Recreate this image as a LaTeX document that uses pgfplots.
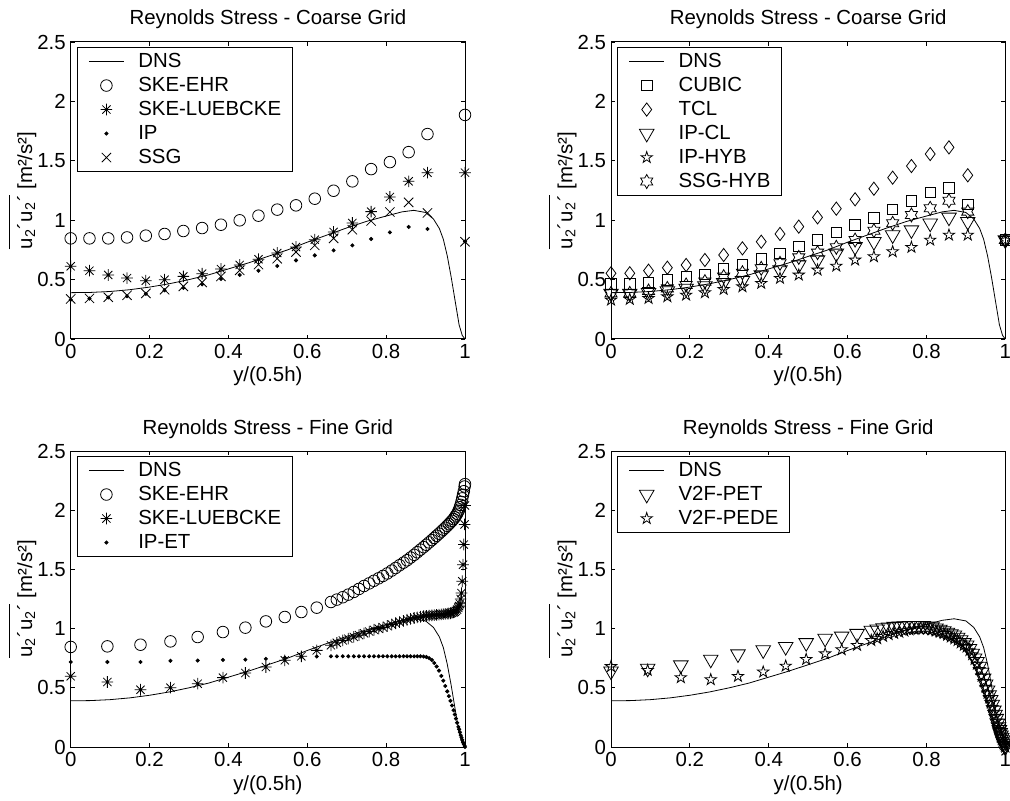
\documentclass[border=0pt]{standalone}
\usepackage{pgfplots}
\pgfplotsset{compat=1.18}
\usepackage{pgfplotstable}
\usepackage{fontspec}
\setmainfont{Liberation Sans}
\newcommand\fs{\fontsize{10.2}{12}\selectfont}

% matlab-like markers
\pgfdeclareplotmark{mstar}{%
  \pgfpathmoveto{\pgfqpoint{-\pgfplotmarksize}{0pt}}\pgfpathlineto{\pgfqpoint{\pgfplotmarksize}{0pt}}%
  \pgfpathmoveto{\pgfqpoint{0pt}{-\pgfplotmarksize}}\pgfpathlineto{\pgfqpoint{0pt}{\pgfplotmarksize}}%
  \pgfpathmoveto{\pgfpointpolar{45}{\pgfplotmarksize}}\pgfpathlineto{\pgfpointpolar{225}{\pgfplotmarksize}}%
  \pgfpathmoveto{\pgfpointpolar{135}{\pgfplotmarksize}}\pgfpathlineto{\pgfpointpolar{315}{\pgfplotmarksize}}%
  \pgfusepathqstroke}
\pgfdeclareplotmark{pentagram}{%
  \pgfpathmoveto{\pgfpointpolar{90}{\pgfplotmarksize}}%
  \pgfpathlineto{\pgfpointpolar{126}{0.382*\pgfplotmarksize}}%
  \pgfpathlineto{\pgfpointpolar{162}{\pgfplotmarksize}}%
  \pgfpathlineto{\pgfpointpolar{198}{0.382*\pgfplotmarksize}}%
  \pgfpathlineto{\pgfpointpolar{234}{\pgfplotmarksize}}%
  \pgfpathlineto{\pgfpointpolar{270}{0.382*\pgfplotmarksize}}%
  \pgfpathlineto{\pgfpointpolar{306}{\pgfplotmarksize}}%
  \pgfpathlineto{\pgfpointpolar{342}{0.382*\pgfplotmarksize}}%
  \pgfpathlineto{\pgfpointpolar{18}{\pgfplotmarksize}}%
  \pgfpathlineto{\pgfpointpolar{54}{0.382*\pgfplotmarksize}}%
  \pgfpathclose\pgfusepathqstroke}
\pgfdeclareplotmark{hexagram}{%
  \pgfpathmoveto{\pgfpointpolar{90}{\pgfplotmarksize}}%
  \pgfpathlineto{\pgfpointpolar{120}{0.577*\pgfplotmarksize}}%
  \pgfpathlineto{\pgfpointpolar{150}{\pgfplotmarksize}}%
  \pgfpathlineto{\pgfpointpolar{180}{0.577*\pgfplotmarksize}}%
  \pgfpathlineto{\pgfpointpolar{210}{\pgfplotmarksize}}%
  \pgfpathlineto{\pgfpointpolar{240}{0.577*\pgfplotmarksize}}%
  \pgfpathlineto{\pgfpointpolar{270}{\pgfplotmarksize}}%
  \pgfpathlineto{\pgfpointpolar{300}{0.577*\pgfplotmarksize}}%
  \pgfpathlineto{\pgfpointpolar{330}{\pgfplotmarksize}}%
  \pgfpathlineto{\pgfpointpolar{0}{0.577*\pgfplotmarksize}}%
  \pgfpathlineto{\pgfpointpolar{30}{\pgfplotmarksize}}%
  \pgfpathlineto{\pgfpointpolar{60}{0.577*\pgfplotmarksize}}%
  \pgfpathclose\pgfusepathqstroke}

\pgfplotstableread{
x     y
0.00  0.390
0.05  0.392
0.10  0.400
0.15  0.415
0.20  0.437
0.25  0.465
0.30  0.500
0.35  0.540
0.40  0.590
0.45  0.640
0.50  0.695
0.55  0.750
0.60  0.815
0.65  0.875
0.70  0.935
0.75  0.990
0.80  1.035
0.84  1.070
0.87  1.083
0.90  1.065
0.92  1.010
0.935 0.930
0.945 0.840
0.955 0.700
0.965 0.520
0.975 0.320
0.985 0.120
0.993 0.030
1.00  0.000
}\dns

\pgfplotstableread{
x      ehr   lue   ip    ssg   cubic tcl   ipcl  iphyb ssghyb
0.0000 0.847 0.612 0.330 0.337 0.463 0.553 0.384 0.328 0.384
0.0476 0.847 0.575 0.340 0.342 0.463 0.553 0.384 0.334 0.384
0.0952 0.847 0.539 0.350 0.351 0.474 0.575 0.390 0.342 0.404
0.1429 0.855 0.513 0.360 0.368 0.497 0.600 0.404 0.356 0.426
0.1905 0.870 0.491 0.380 0.384 0.525 0.623 0.426 0.370 0.455
0.2381 0.884 0.499 0.410 0.415 0.544 0.665 0.446 0.390 0.483
0.2857 0.909 0.527 0.430 0.443 0.589 0.707 0.474 0.418 0.525
0.3333 0.934 0.550 0.460 0.477 0.623 0.763 0.491 0.440 0.558
0.3810 0.962 0.589 0.505 0.527 0.673 0.819 0.539 0.469 0.595
0.4286 0.999 0.623 0.539 0.578 0.721 0.884 0.581 0.511 0.637
0.4762 1.038 0.671 0.575 0.626 0.777 0.946 0.623 0.539 0.687
0.5238 1.089 0.724 0.614 0.676 0.833 1.024 0.665 0.581 0.727
0.5714 1.125 0.774 0.662 0.732 0.895 1.097 0.721 0.614 0.772
0.6190 1.181 0.836 0.704 0.788 0.960 1.176 0.777 0.665 0.833
0.6667 1.248 0.901 0.746 0.847 1.021 1.265 0.819 0.693 0.912
0.7143 1.327 0.976 0.788 0.920 1.091 1.358 0.875 0.735 0.974
0.7619 1.430 1.072 0.842 0.993 1.164 1.456 0.917 0.772 1.044
0.8095 1.489 1.195 0.898 1.069 1.232 1.557 0.974 0.833 1.100
0.8571 1.573 1.327 0.943 1.150 1.271 1.613 1.024 0.875 1.164
0.9048 1.725 1.400 0.926 1.061 1.134 1.378 0.988 0.875 1.072
1.0000 1.886 1.400 0.820 0.819 0.833 0.833 0.833 0.833 0.833
}\coarse

\pgfplotstableread{
x     ehr   lue   ipet  pet   pede
0.000 0.845 0.597 0.718 0.640 0.680
0.093 0.850 0.549 0.718 0.664 0.648
0.177 0.864 0.484 0.718 0.692 0.586
0.253 0.892 0.501 0.728 0.740 0.569
0.322 0.929 0.535 0.730 0.785 0.597
0.386 0.971 0.586 0.735 0.819 0.634
0.443 1.008 0.625 0.738 0.847 0.684
0.495 1.061 0.676 0.745 0.880 0.740
0.543 1.098 0.732 0.755 0.917 0.788
0.585 1.140 0.766 0.760 0.935 0.822
0.624 1.177 0.816 0.765 0.958 0.859
0.660 1.225 0.859 0.766 0.985 0.900
0.675 1.245 0.880 0.766 0.995 0.915
0.690 1.265 0.900 0.766 1.005 0.935
0.704 1.287 0.915 0.766 1.012 0.950
0.718 1.310 0.930 0.766 1.017 0.960
0.731 1.335 0.945 0.766 1.020 0.970
0.744 1.360 0.960 0.766 1.022 0.980
0.757 1.382 0.975 0.766 1.024 0.990
0.769 1.404 0.990 0.766 1.025 0.995
0.781 1.425 1.000 0.766 1.025 1.000
0.792 1.445 1.010 0.766 1.024 1.000
0.803 1.466 1.022 0.766 1.020 0.998
0.814 1.490 1.035 0.766 1.013 0.990
0.824 1.512 1.045 0.766 1.003 0.980
0.834 1.535 1.055 0.766 0.993 0.970
0.844 1.557 1.065 0.766 0.980 0.960
0.853 1.577 1.075 0.766 0.967 0.945
0.862 1.600 1.082 0.766 0.955 0.930
0.871 1.623 1.090 0.766 0.945 0.915
0.879 1.645 1.095 0.766 0.925 0.900
0.887 1.667 1.100 0.766 0.905 0.880
0.895 1.688 1.105 0.764 0.880 0.860
0.902 1.708 1.108 0.760 0.860 0.845
0.909 1.728 1.110 0.750 0.830 0.815
0.916 1.748 1.112 0.735 0.790 0.780
0.922 1.766 1.114 0.710 0.750 0.740
0.928 1.784 1.116 0.680 0.720 0.700
0.934 1.802 1.118 0.645 0.680 0.655
0.940 1.820 1.120 0.600 0.630 0.600
0.945 1.836 1.122 0.560 0.580 0.555
0.950 1.852 1.124 0.515 0.530 0.505
0.955 1.868 1.126 0.470 0.480 0.455
0.959 1.882 1.128 0.430 0.440 0.415
0.963 1.896 1.130 0.390 0.400 0.375
0.967 1.910 1.133 0.350 0.360 0.335
0.971 1.925 1.137 0.310 0.310 0.290
0.974 1.940 1.142 0.275 0.275 0.255
0.977 1.955 1.150 0.240 0.240 0.220
0.980 1.970 1.160 0.205 0.200 0.185
0.983 1.990 1.175 0.170 0.170 0.150
0.985 2.005 1.190 0.150 0.145 0.130
0.987 2.025 1.210 0.125 0.120 0.105
0.989 2.045 1.250 0.100 0.100 0.085
0.991 2.070 1.300 0.080 0.080 0.065
0.993 2.100 1.400 0.060 0.060 0.050
0.995 2.130 1.540 0.040 0.040 0.030
0.997 2.160 1.710 0.025 0.025 0.020
0.999 2.200 1.880 0.010 0.010 0.008
1.000 2.220 2.040 0.000 0.000 0.000
}\fine

\pgfplotsset{
  rs/.style={
    scale only axis, width=197.15pt, height=148.5pt, anchor=south west,
    xmin=0, xmax=1, ymin=0, ymax=2.5, clip=false,
    xtick={0,0.2,0.4,0.6,0.8,1}, ytick={0,0.5,1,1.5,2,2.5},
    tick align=inside, major tick length=2.2pt,
    every tick/.style={black, line width=0.4pt},
    axis line style={line width=0.5pt},
    tick label style={font=\fs},
    /pgf/number format/assume math mode=true,
    xticklabel style={yshift=1pt},
    yticklabel style={xshift=1pt},
    every axis title shift=0pt,
    title style={font=\fs, at={(axis description cs:0.5,1)}, anchor=base, yshift=8.5pt},
    xlabel={y/(0.5h)},
    xlabel style={font=\fs, at={(axis description cs:0.5,0)}, anchor=base, yshift=-21.5pt},
    ylabel={$\overline{\mbox{\rule{0pt}{10pt}u\textsubscript{2}´u\textsubscript{2}´}}$ [m²/s²]},
    ylabel style={font=\fs, at={(axis description cs:-0.098,0.5)}, anchor=base},
    legend cell align=left,
    legend style={font=\fs, at={(axis description cs:0.016,0.983)}, anchor=north west,
      draw=black, line width=0.5pt, inner xsep=5.5pt, inner ysep=1pt, row sep=0pt,
      nodes={inner xsep=0pt, inner ysep=2pt, text height=7pt, text depth=1pt}},
    legend image code/.code={%
      \draw[mark repeat=2,mark phase=2,#1] plot coordinates {(0pt,0pt)(8.75pt,0pt)(17.5pt,0pt)};
      \path (0pt,0pt) (24.5pt,0pt);},
    every axis plot/.append style={black, line width=0.4pt},
  },
  dnsline/.style={black, mark=none, line width=0.4pt},
}

\begin{document}
\begin{tikzpicture}
\useasboundingbox (0pt,0pt) rectangle (505pt,-400.5pt);

% top left
\begin{axis}[rs, at={(35.35pt,-169.5pt)}, title={Reynolds Stress - Coarse Grid}]
\addplot[dnsline] table[x=x,y=y]{\dns};
\addplot[only marks, mark=o, mark size=2.9pt] table[x=x,y=ehr]{\coarse};
\addplot[only marks, mark=mstar, mark size=2.9pt] table[x=x,y=lue]{\coarse};
\addplot[only marks, mark=*, mark size=0.8pt, mark options={fill=black}] table[x=x,y=ip]{\coarse};
\addplot[only marks, mark=x, mark size=3.3pt] table[x=x,y=ssg]{\coarse};
\legend{DNS, SKE-EHR, SKE-LUEBCKE, IP, SSG}
\end{axis}

% top right
\begin{axis}[rs, at={(305.5pt,-169.5pt)}, title={Reynolds Stress - Coarse Grid}]
\addplot[dnsline] table[x=x,y=y]{\dns};
\addplot[only marks, mark=square, mark size=2.6pt] table[x=x,y=cubic]{\coarse};
\addplot[only marks, mark=diamond, mark size=3.3pt] table[x=x,y=tcl]{\coarse};
\addplot[only marks, mark=triangle, mark size=4.2pt, mark options={rotate=180}] table[x=x,y=ipcl]{\coarse};
\addplot[only marks, mark=pentagram, mark size=3pt] table[x=x,y=iphyb]{\coarse};
\addplot[only marks, mark=hexagram, mark size=3.5pt] table[x=x,y=ssghyb]{\coarse};
\legend{DNS, CUBIC, TCL, IP-CL, IP-HYB, SSG-HYB}
\end{axis}

% bottom left
\begin{axis}[rs, at={(35.35pt,-373.5pt)}, height=148pt, title={Reynolds Stress - Fine Grid}]
\addplot[dnsline] table[x=x,y=y]{\dns};
\addplot[only marks, mark=o, mark size=2.9pt] table[x=x,y=ehr]{\fine};
\addplot[only marks, mark=mstar, mark size=2.9pt] table[x=x,y=lue]{\fine};
\addplot[only marks, mark=*, mark size=0.8pt, mark options={fill=black}] table[x=x,y=ipet]{\fine};
\legend{DNS, SKE-EHR, SKE-LUEBCKE, IP-ET}
\end{axis}

% bottom right
\begin{axis}[rs, at={(305.5pt,-373.5pt)}, height=148pt, title={Reynolds Stress - Fine Grid}]
\addplot[dnsline] table[x=x,y=y]{\dns};
\addplot[only marks, mark=triangle, mark size=4.2pt, mark options={rotate=180}] table[x=x,y=pet]{\fine};
\addplot[only marks, mark=pentagram, mark size=3pt] table[x=x,y=pede]{\fine};
\legend{DNS, V2F-PET, V2F-PEDE}
\end{axis}
\end{tikzpicture}
\end{document}
